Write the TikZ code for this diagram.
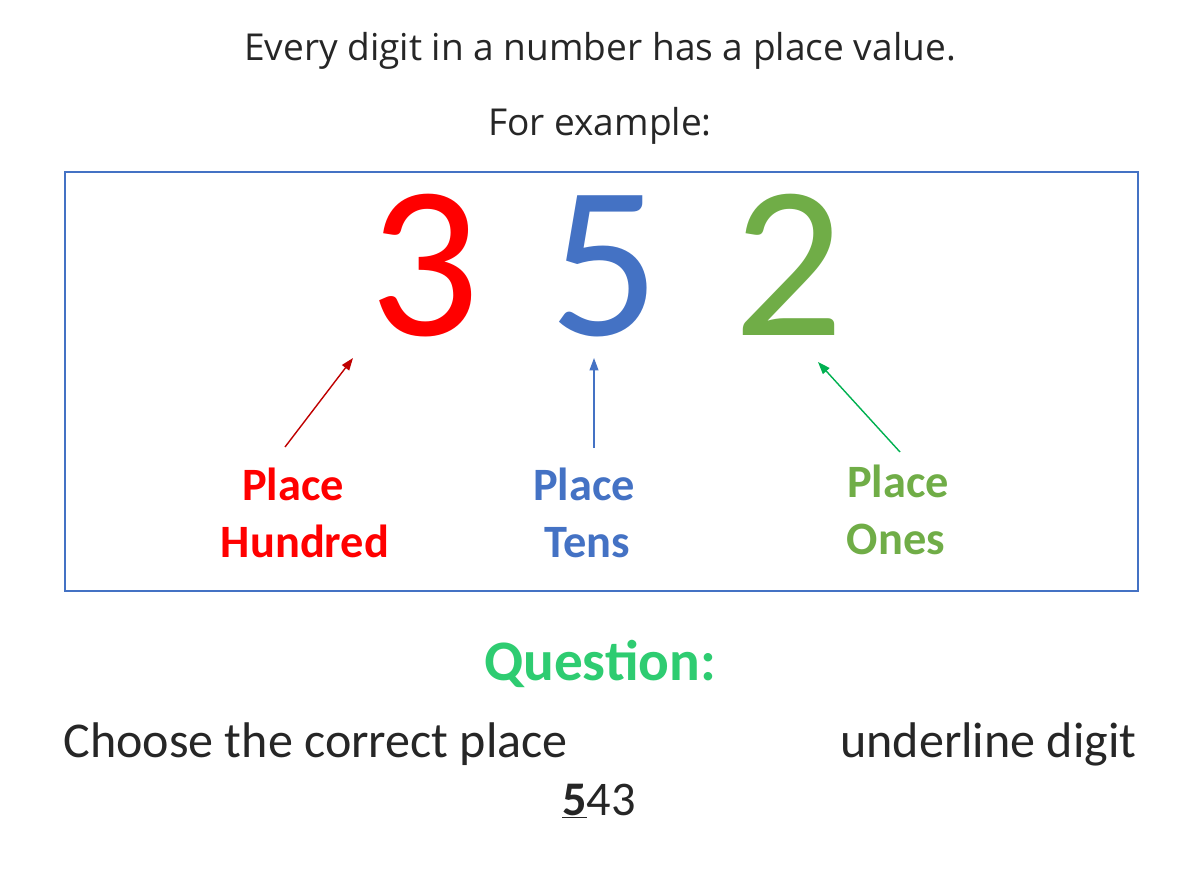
\documentclass[tikz,border=0pt]{standalone}
\usepackage{fontspec}
\setmainfont{Carlito}
\newfontfamily\opensans{Open Sans}
\usepackage{tikz}
\usetikzlibrary{arrows.meta}

\definecolor{hundredred}{HTML}{FF0000}
\definecolor{tensblue}{HTML}{4472C4}
\definecolor{onesgreen}{HTML}{70AD47}
\definecolor{arrowgreen}{HTML}{00B050}
\definecolor{questgreen}{HTML}{2ECC71}
\definecolor{textgray}{HTML}{262626}

\begin{document}
\begin{tikzpicture}[x=0.02cm, y=-0.02cm,
		digit/.style={inner sep=0pt, anchor=base, font=\fontsize{124}{124}\selectfont},
		placelabel/.style={inner sep=0pt, anchor=base, font=\fontsize{26.4}{30}\selectfont\bfseries},
		pointer/.style={-{Triangle[length=7pt, width=5pt]}, line width=0.8pt}
	]
	\useasboundingbox (0,0) rectangle (1200,872);

	% heading
	\node[inner sep=0pt, anchor=base, text=textgray, font=\opensans\fontsize{21.1}{24}\selectfont] (intro) at (600,60) {Every digit in a number has a place value.};
	\node[inner sep=0pt, anchor=base, text=textgray, font=\opensans\fontsize{21.1}{24}\selectfont] (example) at (600,135) {For example:};

	% frame
	\draw[tensblue, line width=1.2pt] (65,172) rectangle (1138,591);

	% the number
	\node[digit, text=hundredred] (three) at (425,335) {3};
	\node[digit, text=tensblue] (five) at (605,335) {5};
	\node[digit, text=onesgreen] (two) at (789,335) {2};

	% labels
	\node[placelabel, text=hundredred] (hplace) at (293,500) {Place};
	\node[placelabel, text=hundredred] (hname) at (305,557) {Hundred};
	\node[placelabel, text=tensblue] (tplace) at (584,500) {Place};
	\node[placelabel, text=tensblue] (tname) at (587,557) {Tens};
	\node[placelabel, text=onesgreen] (oplace) at (898,497) {Place};
	\node[placelabel, text=onesgreen] (oname) at (896,554) {Ones};

	% arrows
	\coordinate (htail) at (285,447);
	\coordinate (hhead) at (353,358);
	\coordinate (ttail) at (594,448);
	\coordinate (thead) at (594,358);
	\coordinate (otail) at (900,452);
	\coordinate (ohead) at (818,362);
	\draw[pointer, color=hundredred!75!black] (htail) -- (hhead);
	\draw[pointer, color=tensblue] (ttail) -- (thead);
	\draw[pointer, color=arrowgreen] (otail) -- (ohead);

	% question
	\node[inner sep=0pt, anchor=base, text=questgreen, font=\fontsize{32.6}{36}\selectfont\bfseries] (question) at (600,680) {Question:};
	\node[inner sep=0pt, anchor=base west, text=textgray, font=\fontsize{28.5}{32}\selectfont] (choose) at (63,757) {Choose the correct place};
	\node[inner sep=0pt, anchor=base east, text=textgray, font=\fontsize{28.5}{32}\selectfont] (underline) at (1137,757) {underline digit};
	\node[inner sep=0pt, anchor=base, text=textgray, font=\fontsize{27.5}{30}\selectfont] (number) at (599,815) {\underline{\textbf{5}}43};
\end{tikzpicture}
\end{document}
